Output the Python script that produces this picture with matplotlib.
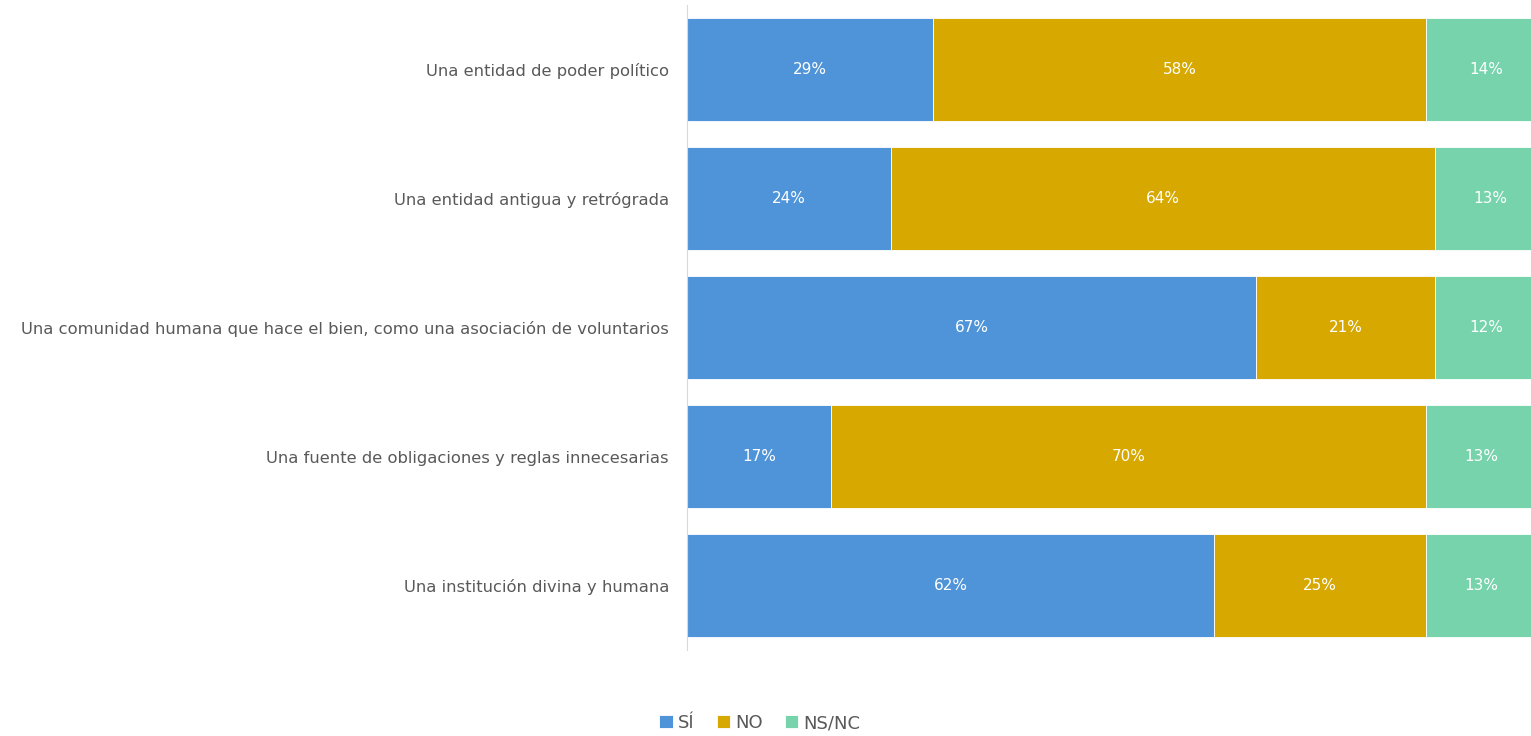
import matplotlib
matplotlib.use("Agg")
import matplotlib.pyplot as plt

categorias = [
    "Una entidad de poder político",
    "Una entidad antigua y retrógrada",
    "Una comunidad humana que hace el bien, como una asociación de voluntarios",
    "Una fuente de obligaciones y reglas innecesarias",
    "Una institución divina y humana",
]
si = [29, 24, 67, 17, 62]
no = [58, 64, 21, 70, 25]
nsnc = [14, 13, 12, 13, 13]
series = ["SÍ", "NO", "NS/NC"]
colores = ["#4F94D9", "#D6A800", "#76D3AB"]
gris = "#595959"

plt.rcParams['font.family'] = ['DejaVu Sans']

fig = plt.figure(figsize=(15.31, 7.36), dpi=100)
ax = fig.add_axes([687 / 1531, 1 - 650 / 736, 1 - 687 / 1531, 645 / 736])

y = list(range(len(categorias)))
izq = [0] * len(categorias)
for nombre, vals, col in zip(series, [si, no, nsnc], colores):
    barras = ax.barh(y, vals, left=izq, height=0.8, color=col, label=nombre,
                     edgecolor="white", linewidth=0.6)
    for b, v in zip(barras, vals):
        ax.text(b.get_x() + b.get_width() / 2, b.get_y() + b.get_height() / 2,
                f"{v}%", ha="center", va="center", color="white", fontsize=11,
                clip_on=False)
    izq = [a + b for a, b in zip(izq, vals)]

ax.set_xlim(0, 99.3)
ax.set_ylim(4.5, -0.5)
ax.set_yticks(y)
ax.set_yticklabels(categorias, fontsize=11.8, color=gris)
ax.tick_params(axis="y", length=0, pad=13)
ax.set_xticks([])
for s in ["top", "right", "bottom"]:
    ax.spines[s].set_visible(False)
ax.spines["left"].set_color("#D9D9D9")

fig.legend(loc="center", bbox_to_anchor=(760 / 1531, 1 - 723 / 736), ncol=3,
           frameon=False, fontsize=13, labelcolor=gris, handlelength=0.75,
           handleheight=0.75, handletextpad=0.3, columnspacing=1.2)

fig.savefig("out.png", dpi=100)
